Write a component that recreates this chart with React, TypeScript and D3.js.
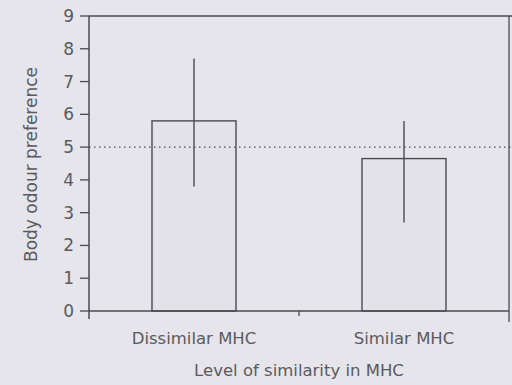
import React from "react";
import * as d3 from "d3";

const categories = ["Dissimilar MHC", "Similar MHC"];
const means = [5.8, 4.65];
const lowers = [3.8, 2.7];
const uppers = [7.7, 5.8];
const yTicks = [0, 1, 2, 3, 4, 5, 6, 7, 8, 9];
const referenceValue = 5;
const xTitle = "Level of similarity in MHC";
const yTitle = "Body odour preference";

const W = 512;
const H = 385;
const left = 89;
const right = 509;
const top = 16;
const bottom = 311;
const font = "'DejaVu Sans', sans-serif";
const ink = "#4a4a4f";
const textCol = "#5a5a60";

export default function App() {
  const y = d3.scaleLinear().domain([0, 9]).range([bottom, top]);
  const x = d3.scaleBand<string>().domain(categories).range([left, right]).padding(0);
  const bw = x.bandwidth() * 0.4;

  return (
    <svg
      width={W}
      height={H}
      style={{ position: "absolute", left: 0, top: 0, background: "#e5e5eb" }}
    >
      <rect x={0} y={0} width={W} height={H} fill="#e5e5eb" />
      {/* bars */}
      {categories.map((c, i) => {
        const cx = (x(c) as number) + x.bandwidth() / 2;
        return (
          <g key={c}>
            <rect
              x={cx - bw / 2}
              y={y(means[i])}
              width={bw}
              height={y(0) - y(means[i])}
              fill="#e2e2e8"
              stroke={ink}
              strokeWidth={1.4}
            />
          </g>
        );
      })}
      {/* reference dotted line */}
      <line
        x1={left}
        x2={W}
        y1={y(referenceValue)}
        y2={y(referenceValue)}
        stroke={ink}
        strokeWidth={1.3}
        strokeDasharray="1.5,3.5"
      />
      {/* error bars */}
      {categories.map((c, i) => {
        const cx = (x(c) as number) + x.bandwidth() / 2;
        return (
          <line
            key={"e" + c}
            x1={cx}
            x2={cx}
            y1={y(uppers[i])}
            y2={y(lowers[i])}
            stroke={ink}
            strokeWidth={1.4}
          />
        );
      })}
      {/* frame */}
      <line x1={left} x2={W} y1={y(9)} y2={y(9)} stroke={ink} strokeWidth={1.5} />
      <line x1={left} x2={left} y1={y(9)} y2={bottom + 8} stroke={ink} strokeWidth={1.5} />
      <line x1={right} x2={right} y1={y(9)} y2={bottom + 11} stroke={ink} strokeWidth={1.3} />
      <line x1={left} x2={right} y1={bottom} y2={bottom} stroke={ink} strokeWidth={1.5} />
      {/* middle x tick */}
      <line
        x1={(x(categories[1]) as number)}
        x2={(x(categories[1]) as number)}
        y1={bottom}
        y2={bottom + 5}
        stroke={ink}
        strokeWidth={1.3}
      />
      {/* y ticks */}
      {yTicks.map((t) => (
        <g key={t}>
          <line x1={left - 9} x2={left} y1={y(t)} y2={y(t)} stroke={ink} strokeWidth={1.3} />
          <text
            x={74}
            y={y(t)}
            textAnchor="end"
            dominantBaseline="central"
            fontFamily={font}
            fontSize={17}
            fill={textCol}
          >
            {t}
          </text>
        </g>
      ))}
      {/* category labels */}
      {categories.map((c) => (
        <text
          key={"l" + c}
          x={(x(c) as number) + x.bandwidth() / 2}
          y={344}
          textAnchor="middle"
          fontFamily={font}
          fontSize={16.5}
          fill={textCol}
        >
          {c}
        </text>
      ))}
      <text
        x={(left + right) / 2}
        y={376}
        textAnchor="middle"
        fontFamily={font}
        fontSize={16.5}
        fill={textCol}
      >
        {xTitle}
      </text>
      <text
        transform={`translate(37,${(top + bottom) / 2 + 1}) rotate(-90)`}
        textAnchor="middle"
        fontFamily={font}
        fontSize={17}
        fill={textCol}
      >
        {yTitle}
      </text>
    </svg>
  );
}
